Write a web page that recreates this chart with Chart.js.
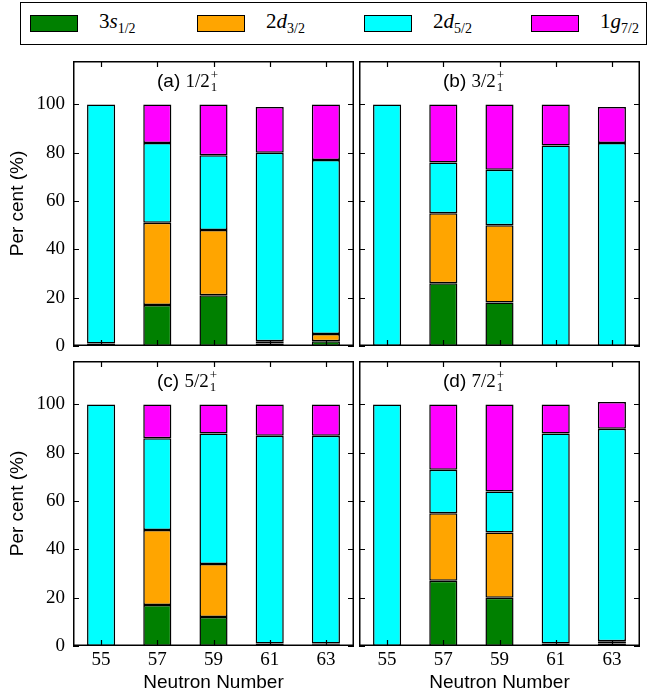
<!DOCTYPE html>
<html>
<head>
<meta charset="utf-8">
<script src="https://cdn.jsdelivr.net/npm/chart.js@4.4.0/dist/chart.umd.min.js"></script>
<style>
  body { margin: 0; background: #fff; width: 651px; height: 697px; position: relative; overflow: hidden; }
  .panel { position: absolute; }
  #legend { position: absolute; left: 20px; top: 2px; width: 627px; height: 43px; border: 1px solid #000; box-sizing: border-box; }
  .patch { position: absolute; top: 12px; width: 48px; height: 17px; border: 1px solid #000; box-sizing: border-box; }
  .lab { position: absolute; top: 6px; font: 21px "Liberation Serif", serif; white-space: nowrap; }
  .lab i { font-style: italic; }
  .lab sub { font-size: 14px; vertical-align: -5px; line-height: 0; }
</style>
</head>
<body>
<div id="legend"></div>
<div class="panel" id="pa"><canvas id="ca"></canvas></div>
<div class="panel" id="pb"><canvas id="cb"></canvas></div>
<div class="panel" id="pc"><canvas id="cc"></canvas></div>
<div class="panel" id="pd"><canvas id="cd"></canvas></div>
<script>
// ---- data ----
var neutronNumbers = ["55", "57", "59", "61", "63"];
var yTickValues = [0, 20, 40, 60, 80, 100];

// orbital names: [principal, orbital letter, j]
var shellN = ["3", "2", "2", "1"];
var shellL = ["s", "d", "d", "g"];
var shellJ = ["1/2", "3/2", "5/2", "7/2"];
var shellColors = ["#008000", "#ffa500", "#00ffff", "#ff00ff"];

var panelTags = ["(a)", "(b)", "(c)", "(d)"];
var panelSpins = ["1/2", "3/2", "5/2", "7/2"];

// (a) 1/2+
var a_s12 = [1, 17, 21, 1, 2];
var a_d32 = [0, 34, 27, 1, 3];
var a_d52 = [99, 33, 31, 78, 72];
var a_g72 = [0, 16, 21, 19, 23];
// (b) 3/2+
var b_s12 = [0, 26, 18, 0, 0];
var b_d32 = [0, 29, 32, 0, 0];
var b_d52 = [100, 21, 23, 83, 84];
var b_g72 = [0, 24, 27, 17, 15];
// (c) 5/2+
var c_s12 = [0, 17, 12, 1, 0.5];
var c_d32 = [0, 31, 22, 0, 0.5];
var c_d52 = [100, 38, 54, 86, 86];
var c_g72 = [0, 14, 12, 13, 13];
// (d) 7/2+
var d_s12 = [0, 27, 20, 1, 1];
var d_d32 = [0, 28, 27, 0, 1];
var d_d52 = [100, 18, 17, 87, 88];
var d_g72 = [0, 27, 36, 12, 11];

// ---- layout ----
var PW = 281, PH = 285, YW = 73, XH = 51, PAD = 26;
var SERIF = '"Liberation Serif", serif';
var SANS = '"Liberation Sans", Arial, sans-serif';

// legend (html, so the subscripts work)
var legendEl = document.getElementById("legend");
for (var i = 0; i < 4; i++) {
  var p = document.createElement("div");
  p.className = "patch";
  p.style.left = (9 + i * 167) + "px";
  p.style.background = shellColors[i];
  legendEl.appendChild(p);
  var l = document.createElement("div");
  l.className = "lab";
  l.style.left = (78 + i * 167) + "px";
  l.innerHTML = shellN[i] + "<i>" + shellL[i] + "</i><sub>" + shellJ[i] + "</sub>";
  legendEl.appendChild(l);
}

// frame, inward ticks and the panel label
var framePlugin = {
  id: "frame",
  afterDatasetsDraw: function (chart, args, opts) {
    var ctx = chart.ctx, a = chart.chartArea;
    var x = chart.scales.x, y = chart.scales.y;
    ctx.save();
    ctx.strokeStyle = "#000";
    ctx.lineWidth = 1.2;
    ctx.beginPath();
    yTickValues.forEach(function (v) {
      var py = Math.round(y.getPixelForValue(v)) + 0.5;
      ctx.moveTo(a.left, py); ctx.lineTo(a.left + 6, py);
      ctx.moveTo(a.right, py); ctx.lineTo(a.right - 6, py);
    });
    neutronNumbers.forEach(function (n, i) {
      var px = Math.round(x.getPixelForValue(i)) + 0.5;
      ctx.moveTo(px, a.bottom); ctx.lineTo(px, a.bottom - 6);
      ctx.moveTo(px, a.top); ctx.lineTo(px, a.top + 6);
    });
    ctx.stroke();
    ctx.lineWidth = 1.5;
    ctx.strokeRect(a.left + 0.75, a.top + 0.75, a.width - 1.5, a.height - 1.5);

    // label like "(a) 1/2_1^+"
    var lx = a.left + 84, ly = a.top + 26;
    ctx.fillStyle = "#000";
    ctx.textBaseline = "alphabetic";
    ctx.font = "19px " + SANS;
    ctx.fillText(opts.tag, lx, ly);
    lx += ctx.measureText(opts.tag + " ").width;
    ctx.font = "19px " + SERIF;
    ctx.fillText(opts.spin, lx, ly);
    lx += ctx.measureText(opts.spin).width + 1;
    ctx.font = "13px " + SERIF;
    ctx.fillText("1", lx, ly + 4);
    ctx.fillText("+", lx, ly - 8);
    ctx.restore();
  }
};

function makePanel(canvasId, divId, pos, series, tag, spin) {
  var div = document.getElementById(divId);
  var w = (pos.leftCol ? YW : 0) + PW;
  var h = PAD + PH + (pos.bottomRow ? XH : PAD);
  div.style.left = (pos.leftCol ? 0 : 359) + "px";
  div.style.top = ((pos.bottomRow ? 361 : 61) - PAD) + "px";
  div.style.width = w + "px";
  div.style.height = h + "px";

  var datasets = series.map(function (vals, k) {
    return {
      label: shellN[k] + shellL[k] + shellJ[k],
      data: vals,
      backgroundColor: shellColors[k],
      borderColor: "#000",
      borderWidth: 1.5,
      borderSkipped: false,
      barPercentage: 0.5,
      categoryPercentage: 1.0
    };
  });

  return new Chart(document.getElementById(canvasId), {
    type: "bar",
    data: { labels: neutronNumbers, datasets: datasets },
    plugins: [framePlugin],
    options: {
      responsive: true,
      maintainAspectRatio: false,
      animation: false,
      layout: { padding: { top: PAD, bottom: pos.bottomRow ? 0 : PAD, left: 0, right: 0 } },
      plugins: {
        legend: { display: false },
        tooltip: { enabled: false },
        frame: { tag: tag, spin: spin }
      },
      scales: {
        x: {
          stacked: true,
          offset: true,
          grid: { display: false, drawTicks: false },
          border: { display: false },
          ticks: {
            display: pos.bottomRow,
            color: "#000",
            padding: 3,
            font: { family: SERIF, size: 19 }
          },
          title: {
            display: pos.bottomRow,
            text: "Neutron Number",
            color: "#000",
            padding: { top: 0, bottom: 3 },
            font: { family: SANS, size: 19 }
          },
          afterFit: function (s) { s.height = pos.bottomRow ? XH : 0; }
        },
        y: {
          stacked: true,
          min: 0,
          max: 118,
          grid: { display: false, drawTicks: false },
          border: { display: false },
          ticks: {
            display: pos.leftCol,
            stepSize: 20,
            color: "#000",
            padding: 8,
            font: { family: SERIF, size: 19 }
          },
          afterBuildTicks: function (s) {
            s.ticks = s.ticks.filter(function (t) { return t.value <= 100; });
          },
          title: {
            display: pos.leftCol,
            text: "Per cent (%)",
            color: "#000",
            padding: { top: 6, bottom: 0 },
            font: { family: SANS, size: 19 }
          },
          afterFit: function (s) { s.width = pos.leftCol ? YW : 0; }
        }
      }
    }
  });
}

makePanel("ca", "pa", { leftCol: true, bottomRow: false }, [a_s12, a_d32, a_d52, a_g72], panelTags[0], panelSpins[0]);
makePanel("cb", "pb", { leftCol: false, bottomRow: false }, [b_s12, b_d32, b_d52, b_g72], panelTags[1], panelSpins[1]);
makePanel("cc", "pc", { leftCol: true, bottomRow: true }, [c_s12, c_d32, c_d52, c_g72], panelTags[2], panelSpins[2]);
makePanel("cd", "pd", { leftCol: false, bottomRow: true }, [d_s12, d_d32, d_d52, d_g72], panelTags[3], panelSpins[3]);
</script>
</body>
</html>
